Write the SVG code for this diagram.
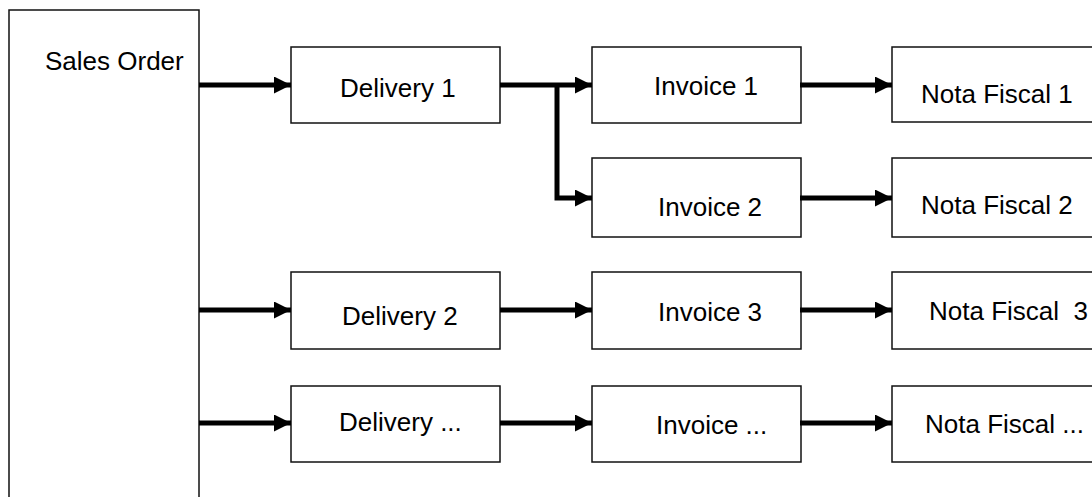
<svg xmlns="http://www.w3.org/2000/svg" width="1092" height="497" viewBox="0 0 1092 497">
  <style>
    .box { fill: #ffffff; stroke: #111111; stroke-width: 1.5; }
    .lbl { font-family: "Liberation Sans", Arial, sans-serif; font-size: 26px; fill: #000000; white-space: pre; }
    .flow { fill: none; stroke: #000000; stroke-width: 5; stroke-linejoin: miter; }
  </style>
  <defs>
    <marker id="head" viewBox="0 0 17 17" refX="17" refY="8.5" markerWidth="17" markerHeight="17" markerUnits="userSpaceOnUse" orient="auto">
      <path d="M0,0 L17,8.5 L0,17 Z" fill="#000000"/>
    </marker>
  </defs>

  <rect width="1092" height="497" fill="#ffffff"/>

  <!-- source document -->
  <g id="sales-order">
    <rect class="box" x="9" y="10" width="190" height="500"/>
    <text class="lbl" x="45" y="70">Sales Order</text>
  </g>

  <!-- deliveries -->
  <g id="delivery-1">
    <rect class="box" x="291" y="47" width="209" height="76"/>
    <text class="lbl" x="340" y="97">Delivery 1</text>
  </g>
  <g id="delivery-2">
    <rect class="box" x="291" y="272" width="209" height="77"/>
    <text class="lbl" x="342" y="325">Delivery 2</text>
  </g>
  <g id="delivery-n">
    <rect class="box" x="291" y="386" width="209" height="76"/>
    <text class="lbl" x="339" y="431">Delivery ...</text>
  </g>

  <!-- invoices -->
  <g id="invoice-1">
    <rect class="box" x="592" y="47" width="209" height="76"/>
    <text class="lbl" x="654" y="95">Invoice 1</text>
  </g>
  <g id="invoice-2">
    <rect class="box" x="592" y="158" width="209" height="79"/>
    <text class="lbl" x="658" y="216">Invoice 2</text>
  </g>
  <g id="invoice-3">
    <rect class="box" x="592" y="272" width="209" height="77"/>
    <text class="lbl" x="658" y="321">Invoice 3</text>
  </g>
  <g id="invoice-n">
    <rect class="box" x="592" y="386" width="209" height="76"/>
    <text class="lbl" x="656" y="434">Invoice ...</text>
  </g>

  <!-- fiscal notes (run off the right edge) -->
  <g id="nota-fiscal-1">
    <rect class="box" x="892" y="47" width="220" height="75"/>
    <text class="lbl" x="921" y="103">Nota Fiscal 1</text>
  </g>
  <g id="nota-fiscal-2">
    <rect class="box" x="892" y="158" width="220" height="79"/>
    <text class="lbl" x="921" y="214">Nota Fiscal 2</text>
  </g>
  <g id="nota-fiscal-3">
    <rect class="box" x="892" y="272" width="220" height="77"/>
    <text class="lbl" x="929" y="320" xml:space="preserve">Nota Fiscal  3</text>
  </g>
  <g id="nota-fiscal-n">
    <rect class="box" x="892" y="386" width="220" height="76"/>
    <text class="lbl" x="925" y="433">Nota Fiscal ...</text>
  </g>

  <!-- connectors -->
  <g id="connectors">
    <path class="flow" d="M199,85 H291" marker-end="url(#head)"/>
    <path class="flow" d="M199,310 H291" marker-end="url(#head)"/>
    <path class="flow" d="M199,423 H291" marker-end="url(#head)"/>

    <path class="flow" d="M500,85 H592" marker-end="url(#head)"/>
    <path class="flow" d="M557,85 V198 H592" marker-end="url(#head)"/>
    <path class="flow" d="M500,310 H592" marker-end="url(#head)"/>
    <path class="flow" d="M500,423 H592" marker-end="url(#head)"/>

    <path class="flow" d="M800,85 H892" marker-end="url(#head)"/>
    <path class="flow" d="M800,198 H892" marker-end="url(#head)"/>
    <path class="flow" d="M800,310 H892" marker-end="url(#head)"/>
    <path class="flow" d="M800,423 H892" marker-end="url(#head)"/>
  </g>
</svg>
